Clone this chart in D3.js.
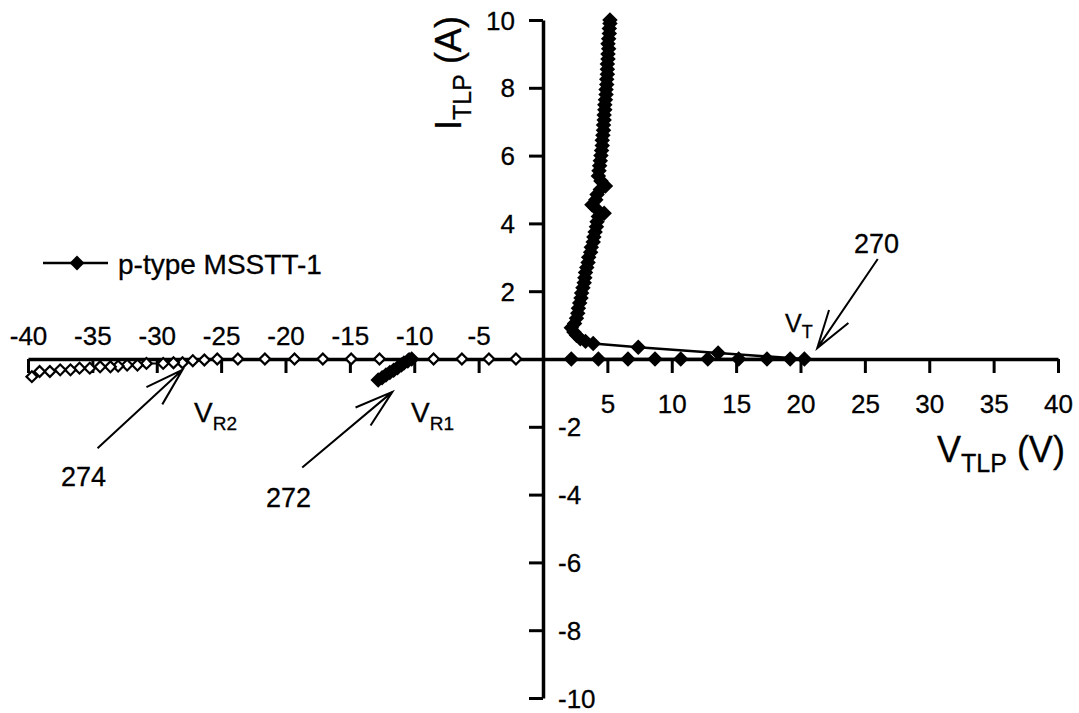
<!DOCTYPE html>
<html>
<head>
<meta charset="utf-8">
<script src="https://d3js.org/d3.v7.min.js"></script>
<style>
  body { margin: 0; background: #fff; }
  text { font-family: Arial, "Liberation Sans", Helvetica, sans-serif; fill: #000; stroke: #000; stroke-width: 0.3; }
  .axis path, .axis line { stroke: #000; }
  .axis path { stroke-width: 3.5; }
  .axis line { stroke-width: 3; }
  .axis text { font-size: 26px; }
</style>
</head>
<body>
<div id="vis"></div>
<script>
// TLP I-V curve, p-type MSSTT-1

// tick values
var xTicks = [-40, -35, -30, -25, -20, -15, -10, -5, 0, 5, 10, 15, 20, 25, 30, 35, 40];
var yTicks = [-10, -8, -6, -4, -2, 0, 2, 4, 6, 8, 10];

// forward pulse (filled diamonds): along the axis, snapback, then the holding branch
var fwdV = [2.2, 4.3, 6.6, 8.7, 10.7, 12.8, 15.2, 17.4, 19.2, 20.3,
    13.6, 7.4, 3.9, 3.3, 2.9, 2.6, 2.4,
    2.2, 2.45, 2.6, 2.7, 2.75, 2.85, 2.95, 3.0, 3.1, 3.2, 3.25, 3.3, 3.4, 3.5, 3.55, 3.7,
    3.75, 3.9, 3.95, 4.05, 4.15, 4.2, 4.3, 4.75, 4.1, 3.8, 4.1, 4.2, 4.45, 4.85, 4.5, 4.3,
    4.35, 4.4, 4.45, 4.5, 4.55, 4.6, 4.6, 4.65, 4.7, 4.7, 4.75, 4.75, 4.8, 4.8, 4.85, 4.9,
    4.9, 4.95, 4.95, 5.0, 5.0, 5.0, 5.05, 5.05, 5.1, 5.05, 5.1, 5.15, 5.15, 5.2, 5.2];
var fwdI = [0, 0, 0, 0, 0, 0, 0, 0, 0, 0,
    0.18, 0.35, 0.46, 0.52, 0.6, 0.7, 0.8,
    0.92, 1.05, 1.2, 1.35, 1.5, 1.65, 1.8, 1.95, 2.1, 2.25, 2.4, 2.55, 2.7, 2.85, 3.0, 3.15,
    3.3, 3.45, 3.6, 3.75, 3.9, 4.05, 4.2, 4.3, 4.45, 4.55, 4.7, 4.85, 5.0, 5.1, 5.25, 5.4,
    5.55, 5.7, 5.85, 6.0, 6.15, 6.3, 6.45, 6.6, 6.75, 6.9, 7.05, 7.2, 7.35, 7.5, 7.65, 7.8,
    7.95, 8.1, 8.25, 8.4, 8.55, 8.7, 8.85, 9.0, 9.15, 9.3, 9.45, 9.6, 9.75, 9.9, 10.0];

// first reverse branch (filled diamonds, 272)
var rev1V = [-10.2, -10.5, -10.8, -11.0, -11.3, -11.6, -11.9, -12.2, -12.5, -12.8];
var rev1I = [0.0, -0.06, -0.12, -0.18, -0.26, -0.33, -0.4, -0.47, -0.55, -0.62];

// second reverse branch (hollow diamonds, 274)
var rev2V = [-2.1, -4.2, -6.3, -8.5, -10.4, -12.7, -14.9, -17.1, -19.3, -21.6, -23.7, -25.3,
    -26.3, -27.2, -28.0, -28.7, -29.5, -30.8, -31.5, -32.3, -33.0, -33.6, -34.4, -35.2,
    -36.0, -36.7, -37.5, -38.3, -39.1, -39.7];
var rev2I = [0, 0, 0, 0, 0, 0, 0, 0, 0, 0, 0, 0,
    -0.03, -0.05, -0.11, -0.11, -0.13, -0.13, -0.18, -0.18, -0.21, -0.23, -0.23, -0.27,
    -0.27, -0.32, -0.32, -0.37, -0.37, -0.52];

var seriesName = "p-type MSSTT-1";

(function() {
    // Graph margin settings
    var margin = { top: 20, right: 21, bottom: 15, left: 28 };
    var width = 1079;
    var height = 713;
    var drawWidth = width - margin.left - margin.right;
    var drawHeight = height - margin.top - margin.bottom;

    var svg = d3.select("#vis").append("svg").attr("width", width).attr("height", height);
    var g = svg.append("g").attr("transform", "translate(" + margin.left + "," + margin.top + ")");

    /************************************** Scales ***************************************/
    var xScale = d3.scaleLinear().domain([-40, 40]).range([0, drawWidth]);
    var yScale = d3.scaleLinear().domain([-10, 10]).range([drawHeight, 0]);

    /************************************** Axes ***************************************/
    var xAxis = d3.axisBottom(xScale).tickValues(xTicks).tickSize(14).tickSizeOuter(0)
        .tickFormat(function(d) { return d === 0 ? "" : d; });
    var yAxis = d3.axisLeft(yScale).tickValues(yTicks).tickSize(14).tickSizeOuter(0)
        .tickFormat(function(d) { return d === 0 ? "" : d; });

    var gx = g.append("g").attr("class", "axis")
        .attr("transform", "translate(0," + yScale(0) + ")").call(xAxis);
    gx.selectAll(".tick text")
        .attr("dy", 0)
        .attr("y", function(d) { return d < 0 ? -14 : 54; });

    var gy = g.append("g").attr("class", "axis")
        .attr("transform", "translate(" + xScale(0) + ",0)").call(yAxis);
    gy.selectAll(".tick text")
        .attr("dy", "0.35em")
        .attr("x", function(d) { return d < 0 ? 15 : -28; })
        .attr("text-anchor", function(d) { return d < 0 ? "start" : "end"; });

    // axis titles
    var xt = svg.append("text").attr("x", 937).attr("y", 462).style("font-size", "36px");
    xt.append("tspan").text("V");
    xt.append("tspan").attr("dy", 10).style("font-size", "25px").text("TLP");
    xt.append("tspan").attr("dy", -10).text(" (V)");

    var yt = svg.append("text").attr("transform", "translate(461,130) rotate(-90)").style("font-size", "36px");
    yt.append("tspan").text("I");
    yt.append("tspan").attr("dy", 10).style("font-size", "25px").text("TLP");
    yt.append("tspan").attr("dy", -10).text(" (A)");

    /************************************** Series ***************************************/
    var fwd = fwdV.map(function(v, i) { return [v, fwdI[i]]; });
    var rev1 = rev1V.map(function(v, i) { return [v, rev1I[i]]; });
    var rev2 = rev2V.map(function(v, i) { return [v, rev2I[i]]; });

    var line = d3.line()
        .x(function(d) { return xScale(d[0]); })
        .y(function(d) { return yScale(d[1]); });

    var diamond = d3.symbol().type(d3.symbolSquare);

    g.append("path").datum(rev2).attr("d", line)
        .attr("fill", "none").attr("stroke", "#000").attr("stroke-width", 2);
    g.append("path").datum(rev1).attr("d", line)
        .attr("fill", "none").attr("stroke", "#000").attr("stroke-width", 2.5);
    g.append("path").datum(fwd).attr("d", line)
        .attr("fill", "none").attr("stroke", "#000").attr("stroke-width", 2.5);

    g.selectAll(".hollow").data(rev2).enter().append("path")
        .attr("class", "hollow")
        .attr("d", diamond.size(58)())
        .attr("transform", function(d) { return "translate(" + xScale(d[0]) + "," + yScale(d[1]) + ") rotate(45)"; })
        .attr("fill", "#fff").attr("stroke", "#000").attr("stroke-width", 2.2);

    g.selectAll(".filled").data(rev1.concat(fwd)).enter().append("path")
        .attr("class", "filled")
        .attr("d", diamond.size(120)())
        .attr("transform", function(d) { return "translate(" + xScale(d[0]) + "," + yScale(d[1]) + ") rotate(45)"; })
        .attr("fill", "#000");

    /************************************** Legend ***************************************/
    svg.append("line").attr("x1", 43).attr("x2", 108).attr("y1", 263).attr("y2", 263)
        .attr("stroke", "#000").attr("stroke-width", 2.5);
    svg.append("path").attr("d", diamond.size(110)())
        .attr("transform", "translate(77,263) rotate(45)").attr("fill", "#000");
    svg.append("text").attr("x", 118).attr("y", 274).style("font-size", "28px").text(seriesName);

    /************************************** Annotations ***************************************/
    // arrows are given in data units: tail -> tip
    var arrows = [
        { from: [26.0, 2.95], to: [21.3, 0.32] },
        { from: [-34.6, -2.63], to: [-28.0, -0.32] },
        { from: [-18.7, -3.2], to: [-11.7, -0.97] }
    ];
    arrows.forEach(function(a) {
        var x0 = xScale(a.from[0]), y0 = yScale(a.from[1]);
        var x1 = xScale(a.to[0]), y1 = yScale(a.to[1]);
        var ang = Math.atan2(y0 - y1, x0 - x1);
        var len = 40, spread = 17 * Math.PI / 180;
        var p = "M" + x0 + "," + y0 + "L" + x1 + "," + y1 +
            "M" + (x1 + len * Math.cos(ang - spread)) + "," + (y1 + len * Math.sin(ang - spread)) +
            "L" + x1 + "," + y1 +
            "L" + (x1 + len * Math.cos(ang + spread)) + "," + (y1 + len * Math.sin(ang + spread));
        g.append("path").attr("d", p).attr("fill", "none")
            .attr("stroke", "#000").attr("stroke-width", 2);
    });

    svg.append("text").attr("x", 854).attr("y", 253).style("font-size", "27px").text("270");
    svg.append("text").attr("x", 61).attr("y", 486).style("font-size", "27px").text("274");
    svg.append("text").attr("x", 266).attr("y", 507).style("font-size", "27px").text("272");

    var vt = svg.append("text").attr("x", 785).attr("y", 332).style("font-size", "25px");
    vt.append("tspan").text("V");
    vt.append("tspan").attr("dy", 6).style("font-size", "18px").text("T");

    var vr2 = svg.append("text").attr("x", 194).attr("y", 422).style("font-size", "28px");
    vr2.append("tspan").text("V");
    vr2.append("tspan").attr("dy", 8).style("font-size", "19px").text("R2");

    var vr1 = svg.append("text").attr("x", 411).attr("y", 422).style("font-size", "28px");
    vr1.append("tspan").text("V");
    vr1.append("tspan").attr("dy", 8).style("font-size", "19px").text("R1");
})();
</script>
</body>
</html>
